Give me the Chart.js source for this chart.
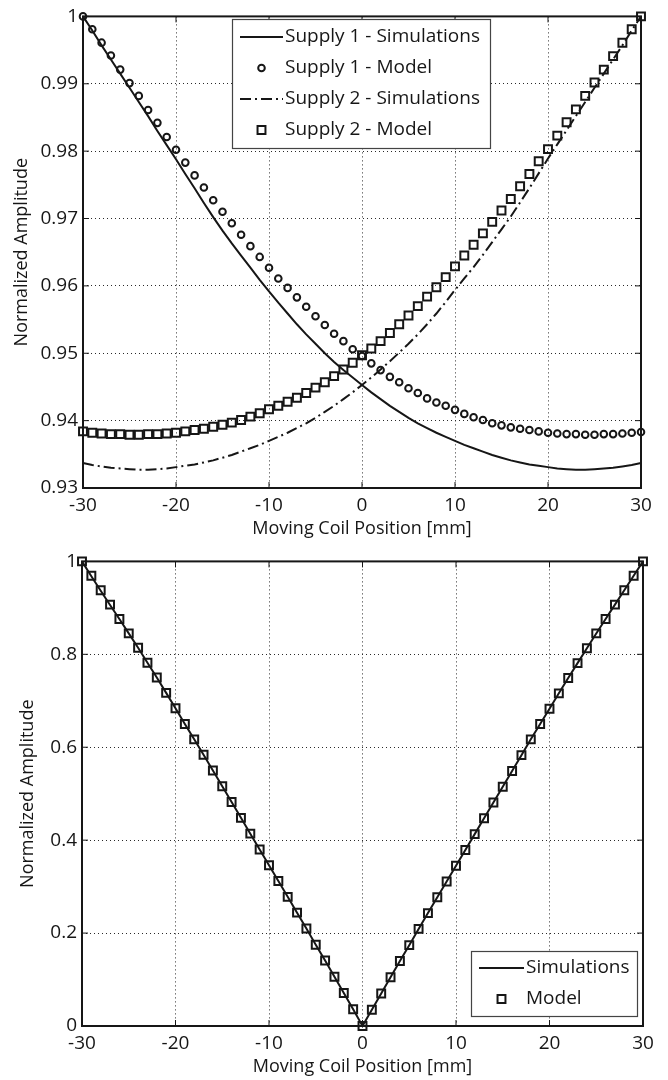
<!DOCTYPE html>
<html>
<head>
<meta charset="utf-8">
<script src="https://cdn.jsdelivr.net/npm/chart.js@4.4.0/dist/chart.umd.min.js"></script>
<style>
  html, body { margin: 0; padding: 0; background: #fff; }
  .wrap { position: absolute; left: 0; width: 668px; }
  #topWrap { top: 0; height: 545px; }
  #bottomWrap { top: 545px; height: 535px; }
</style>
</head>
<body>
<div class="wrap" id="topWrap"><canvas id="supplyChart"></canvas></div>
<div class="wrap" id="bottomWrap"><canvas id="combinedChart"></canvas></div>
<script>
// coil positions [mm]
const positions = [-30, -29, -28, -27, -26, -25, -24, -23, -22, -21, -20, -19, -18, -17, -16, -15, -14, -13, -12, -11,
  -10, -9, -8, -7, -6, -5, -4, -3, -2, -1, 0, 1, 2, 3, 4, 5, 6, 7, 8, 9,
  10, 11, 12, 13, 14, 15, 16, 17, 18, 19, 20, 21, 22, 23, 24, 25, 26, 27, 28, 29, 30];

// top plot
const supply1Sim = [1.0000, 0.9979, 0.9957, 0.9936, 0.9915, 0.9894, 0.9873, 0.9852, 0.9830, 0.9809,
  0.9788, 0.9766, 0.9745, 0.9723, 0.9702, 0.9682, 0.9663, 0.9645, 0.9627, 0.9609,
  0.9592, 0.9575, 0.9559, 0.9543, 0.9528, 0.9514, 0.9500, 0.9487, 0.9475, 0.9464,
  0.9453, 0.9442, 0.9432, 0.9422, 0.9413, 0.9404, 0.9396, 0.9389, 0.9382, 0.9376,
  0.9370, 0.9364, 0.9359, 0.9354, 0.9349, 0.9345, 0.9341, 0.9338, 0.9335, 0.9333,
  0.9331, 0.9329, 0.9328, 0.9327, 0.9327, 0.9328, 0.9329, 0.9330, 0.9332, 0.9334, 0.9337];
const supply1Model = [1.0000, 0.9981, 0.9961, 0.9942, 0.9921, 0.9901, 0.9882, 0.9861, 0.9842, 0.9821,
  0.9802, 0.9783, 0.9764, 0.9746, 0.9727, 0.9710, 0.9693, 0.9676, 0.9659, 0.9643,
  0.9627, 0.9611, 0.9597, 0.9583, 0.9569, 0.9555, 0.9542, 0.9529, 0.9518, 0.9506,
  0.9496, 0.9485, 0.9475, 0.9465, 0.9457, 0.9448, 0.9441, 0.9433, 0.9427, 0.9422,
  0.9416, 0.9410, 0.9405, 0.9401, 0.9396, 0.9393, 0.9390, 0.9388, 0.9386, 0.9384,
  0.9382, 0.9381, 0.9380, 0.9380, 0.9379, 0.9379, 0.9380, 0.9380, 0.9381, 0.9382, 0.9383];
const supply2Sim = [0.9337, 0.9334, 0.9332, 0.9330, 0.9329, 0.9328, 0.9327, 0.9327, 0.9328, 0.9329,
  0.9331, 0.9333, 0.9335, 0.9338, 0.9341, 0.9345, 0.9349, 0.9354, 0.9359, 0.9364,
  0.9370, 0.9376, 0.9382, 0.9389, 0.9396, 0.9404, 0.9413, 0.9422, 0.9432, 0.9442,
  0.9453, 0.9464, 0.9476, 0.9488, 0.9501, 0.9514, 0.9528, 0.9543, 0.9559, 0.9576,
  0.9594, 0.9611, 0.9628, 0.9646, 0.9665, 0.9684, 0.9703, 0.9724, 0.9745, 0.9767,
  0.9789, 0.9810, 0.9831, 0.9852, 0.9873, 0.9894, 0.9915, 0.9936, 0.9957, 0.9979, 1.0000];
const supply2Model = [0.9384, 0.9382, 0.9381, 0.9380, 0.9380, 0.9379, 0.9379, 0.9380, 0.9380, 0.9381,
  0.9382, 0.9384, 0.9386, 0.9388, 0.9391, 0.9394, 0.9397, 0.9401, 0.9406, 0.9411,
  0.9417, 0.9422, 0.9428, 0.9434, 0.9441, 0.9449, 0.9457, 0.9466, 0.9476, 0.9486,
  0.9497, 0.9507, 0.9518, 0.9530, 0.9543, 0.9556, 0.9570, 0.9584, 0.9598, 0.9613,
  0.9629, 0.9645, 0.9661, 0.9678, 0.9695, 0.9712, 0.9729, 0.9748, 0.9766, 0.9785,
  0.9803, 0.9823, 0.9843, 0.9862, 0.9882, 0.9902, 0.9921, 0.9941, 0.9961, 0.9981, 1.0000];

// bottom plot
const combinedSim = [1.000, 0.968, 0.937, 0.906, 0.876, 0.845, 0.814, 0.782, 0.750, 0.717,
  0.684, 0.650, 0.617, 0.584, 0.550, 0.516, 0.482, 0.448, 0.414, 0.380,
  0.346, 0.312, 0.278, 0.244, 0.210, 0.175, 0.141, 0.106, 0.071, 0.036,
  0.000, 0.035, 0.070, 0.105, 0.140, 0.174, 0.209, 0.243, 0.277, 0.311,
  0.345, 0.379, 0.413, 0.447, 0.481, 0.515, 0.549, 0.583, 0.617, 0.650,
  0.683, 0.716, 0.749, 0.781, 0.813, 0.845, 0.876, 0.907, 0.938, 0.969, 1.000];
const combinedModel = [1.000, 0.969, 0.938, 0.907, 0.876, 0.845, 0.814, 0.782, 0.750, 0.717,
  0.684, 0.650, 0.617, 0.584, 0.550, 0.516, 0.482, 0.448, 0.414, 0.380,
  0.346, 0.312, 0.278, 0.244, 0.210, 0.175, 0.141, 0.106, 0.071, 0.036,
  0.000, 0.035, 0.070, 0.105, 0.140, 0.174, 0.209, 0.243, 0.277, 0.311,
  0.345, 0.379, 0.413, 0.447, 0.481, 0.515, 0.549, 0.583, 0.617, 0.650,
  0.683, 0.716, 0.749, 0.781, 0.813, 0.845, 0.876, 0.907, 0.938, 0.969, 1.000];

const xTicks = [-30, -20, -10, 0, 10, 20, 30];
const topYTicks = [0.93, 0.94, 0.95, 0.96, 0.97, 0.98, 0.99, 1];
const bottomYTicks = [0, 0.2, 0.4, 0.6, 0.8, 1];

const INK = '#161616';
const FONT = "'Open Sans', sans-serif";

const toPoints = ys => positions.map((x, i) => ({ x, y: ys[i] }));

function lineSet(label, ys, dash) {
  return {
    label, data: toPoints(ys), borderColor: INK, borderWidth: 2,
    borderDash: dash, pointRadius: 0, showLine: true, clip: false, tension: 0
  };
}
function markerSet(label, ys, style, r) {
  return {
    label, data: toPoints(ys), showLine: false, pointStyle: style,
    pointRadius: r, pointBorderWidth: 2, pointBorderColor: INK,
    pointBackgroundColor: 'rgba(0,0,0,0)', clip: false
  };
}

// plot box with inward ticks on all sides
const frame = {
  id: 'frame',
  afterDatasetsDraw(chart) {
    const { ctx, chartArea: a, scales: { x, y } } = chart;
    ctx.save();
    ctx.strokeStyle = INK;
    ctx.lineWidth = 2;
    ctx.strokeRect(a.left, a.top, a.right - a.left, a.bottom - a.top);
    ctx.lineWidth = 1;
    ctx.beginPath();
    x.ticks.forEach(t => {
      const px = x.getPixelForValue(t.value);
      ctx.moveTo(px, a.bottom); ctx.lineTo(px, a.bottom - 6);
      ctx.moveTo(px, a.top); ctx.lineTo(px, a.top + 6);
    });
    y.ticks.forEach(t => {
      const py = y.getPixelForValue(t.value);
      ctx.moveTo(a.left, py); ctx.lineTo(a.left + 6, py);
      ctx.moveTo(a.right, py); ctx.lineTo(a.right - 6, py);
    });
    ctx.stroke();
    ctx.restore();
  }
};

// MATLAB style boxed legend
const boxLegend = {
  id: 'boxLegend',
  afterDraw(chart, args, o) {
    const ctx = chart.ctx;
    ctx.save();
    ctx.fillStyle = '#fff';
    ctx.fillRect(o.x, o.y, o.w, o.h);
    ctx.strokeStyle = '#444';
    ctx.lineWidth = 1.2;
    ctx.strokeRect(o.x + 0.5, o.y + 0.5, o.w, o.h);
    ctx.font = '19px ' + FONT;
    ctx.textBaseline = 'middle';
    ctx.textAlign = 'left';
    chart.data.datasets.forEach((ds, i) => {
      const cy = o.y + o.first + i * o.gap;
      ctx.strokeStyle = INK;
      if (ds.showLine) {
        ctx.lineWidth = ds.borderWidth;
        ctx.setLineDash(ds.borderDash || []);
        ctx.beginPath();
        ctx.moveTo(o.x + o.line0, cy);
        ctx.lineTo(o.x + o.line1, cy);
        ctx.stroke();
        ctx.setLineDash([]);
      } else {
        const cx = o.x + (o.line0 + o.line1) / 2;
        ctx.lineWidth = ds.pointBorderWidth;
        ctx.beginPath();
        if (ds.pointStyle === 'circle') {
          ctx.arc(cx, cy, ds.pointRadius, 0, Math.PI * 2);
        } else {
          const s = ds.pointRadius * Math.SQRT1_2;
          ctx.rect(cx - s, cy - s, 2 * s, 2 * s);
        }
        ctx.stroke();
      }
      ctx.fillStyle = INK;
      ctx.fillText(ds.label, o.x + o.text, cy);
    });
    ctx.restore();
  }
};

function axes(yMin, yMax, yTickList, yWidth, xHeight, yTitlePad, xTitlePad) {
  return {
    x: {
      type: 'linear', min: -30, max: 30,
      afterFit: s => { s.height = xHeight; },
      afterBuildTicks: s => { s.ticks = xTicks.map(v => ({ value: v })); },
      grid: { color: '#2a2a2a', lineWidth: 1, drawTicks: false },
      border: { display: false, dash: [1, 3] },
      ticks: { color: INK, padding: 6, maxRotation: 0, font: { family: FONT, size: 19 } },
      title: {
        display: true, text: 'Moving Coil Position [mm]', color: INK,
        font: { family: FONT, size: 18 }, padding: { top: 0, bottom: xTitlePad }
      }
    },
    y: {
      type: 'linear', min: yMin, max: yMax,
      afterFit: s => { s.width = yWidth; },
      afterBuildTicks: s => { s.ticks = yTickList.map(v => ({ value: v })); },
      grid: { color: '#2a2a2a', lineWidth: 1, drawTicks: false },
      border: { display: false, dash: [1, 3] },
      ticks: {
        color: INK, padding: 5, font: { family: FONT, size: 19 },
        callback: v => String(Number(v.toFixed(2)))
      },
      title: {
        display: true, text: 'Normalized Amplitude', color: INK,
        font: { family: FONT, size: 18 }, padding: { top: yTitlePad, bottom: 0 }
      }
    }
  };
}

const supplyChart = new Chart(document.getElementById('supplyChart'), {
  type: 'line',
  data: {
    datasets: [
      lineSet('Supply 1 - Simulations', supply1Sim, []),
      markerSet('Supply 1 - Model', supply1Model, 'circle', 3.3),
      lineSet('Supply 2 - Simulations', supply2Sim, [11, 4, 2, 4]),
      markerSet('Supply 2 - Model', supply2Model, 'rect', 5.6)
    ]
  },
  options: {
    responsive: true, maintainAspectRatio: false, animation: false,
    layout: { padding: { top: 12, right: 27, left: 0, bottom: 0 } },
    scales: axes(0.93, 1, topYTicks, 83, 57, 11, 5),
    plugins: {
      legend: { display: false }, tooltip: { enabled: false },
      boxLegend: { x: 232, y: 19, w: 258, h: 129, first: 18, gap: 31, line0: 8, line1: 51, text: 53 }
    }
  },
  plugins: [frame, boxLegend]
});

const combinedChart = new Chart(document.getElementById('combinedChart'), {
  type: 'line',
  data: {
    datasets: [
      lineSet('Simulations', combinedSim, []),
      markerSet('Model', combinedModel, 'rect', 5.6)
    ]
  },
  options: {
    responsive: true, maintainAspectRatio: false, animation: false,
    layout: { padding: { top: 16, right: 25, left: 0, bottom: 0 } },
    scales: axes(0, 1, bottomYTicks, 82, 54, 17, 2),
    plugins: {
      legend: { display: false }, tooltip: { enabled: false },
      boxLegend: { x: 471, y: 406, w: 166, h: 65, first: 17, gap: 31, line0: 8, line1: 53, text: 55 }
    }
  },
  plugins: [frame, boxLegend]
});
</script>
</body>
</html>
